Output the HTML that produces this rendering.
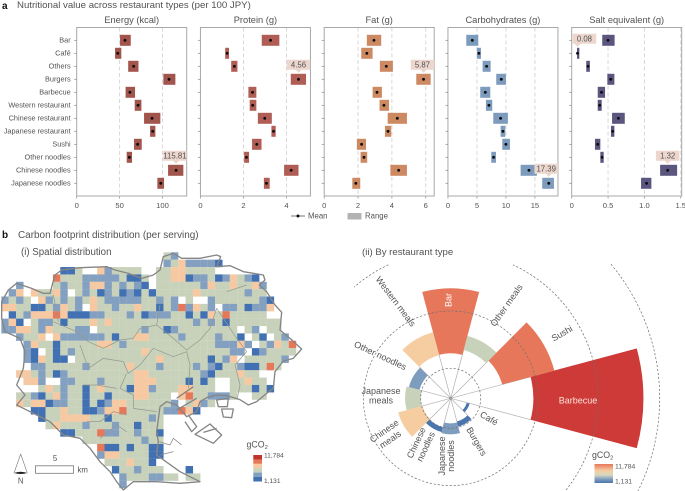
<!DOCTYPE html>
<html lang="en">
<head>
<meta charset="utf-8">
<title>Nutritional value and carbon footprint of restaurant types</title>
<style>
html,body{margin:0;padding:0;background:#fff;}
svg{display:block;font-family:"Liberation Sans",sans-serif;}
text{fill:#525252;}
</style>
</head>
<body>
<svg id="fig" xmlns="http://www.w3.org/2000/svg" width="685" height="491" viewBox="0 0 685 491">
  <text x="2" y="9" font-size="10" font-weight="bold" style="fill:#111">a</text>
  <text x="17" y="8" font-size="9.65">Nutritional value across restaurant types (per 100 JPY)</text>
  <text x="2" y="238" font-size="10" font-weight="bold" style="fill:#111">b</text>
  <text x="18" y="238" font-size="9.95">Carbon footprint distribution (per serving)</text>
  <text x="21" y="255" font-size="9.7">(i) Spatial distribution</text>
  <text x="362" y="255" font-size="9.6">(ii) By restaurant type</text>

  <g id="panels"></g>

  <g>
    <line x1="291" y1="216" x2="305" y2="216" stroke="#555" stroke-width=".8"/>
    <circle cx="298" cy="216" r="1.5" fill="#111"/>
    <text x="308" y="218.5" font-size="7.8">Mean</text>
    <rect x="347.5" y="213" width="14" height="6.5" fill="#b3b3b3"/>
    <text x="365" y="218.5" font-size="7.8">Range</text>
  </g>

  <g id="mapCells"></g>
  <g transform="translate(0,225) scale(.33333)" fill="none" stroke-linejoin="round">
    <path stroke="#949a90" stroke-width="2.2" d="M160,290 L230,320 265,350 310,370 360,345 400,340 420,310 470,300 520,340 560,375 600,345 630,310 650,250 M240,360 L265,430 310,400 370,410 385,445 420,420 460,370 520,395 560,380 570,420 565,490 M380,445 L360,490 400,510 400,550 470,560 M250,480 L290,480 350,490 M260,590 L300,590 340,560 380,570 M300,640 L350,600 380,620 M650,250 L710,340 740,380 705,420 720,480 712,520 M160,210 L175,290 M470,300 L480,240 M680,200 L740,180"/>
    <path stroke="#858585" stroke-width="4" d="M5,230 L25,195 50,175 95,190 130,205 150,205 158,175 165,150 185,135 240,128 320,125 345,135 385,145 425,160 460,150 480,135 490,95 520,85 545,100 600,100 650,90 662,95 650,125 690,122 730,140 790,150 795,165 778,180 800,200 825,240 845,262 840,315 870,340 905,372 880,400 850,408 825,440 820,490 800,505 770,530 745,540 720,524 680,512 650,510 620,518 600,530 590,560 560,575 530,540 500,530 480,545 470,620 475,650 470,690 540,740 600,770 540,775 470,770 400,770 370,795 350,770 330,740 300,710 270,670 240,640 190,630 150,590 110,570 70,550 50,540 75,510 50,480 70,430 75,380 60,340 15,320 5,280 Z"/>
    <path stroke="#858585" stroke-width="4" d="M585,628 L630,597 665,630 640,655 Z M610,622 L650,610 M650,525 L685,520 682,545 655,545 Z M665,552 L700,552 695,578 670,576 Z M530,520 L580,485 M530,555 L590,520 M555,590 L575,620 590,605 565,570"/>
    <path stroke="#858585" stroke-width="2.2" d="M478,650 L510,660 520,640 545,660 M480,690 L520,680"/>
  </g>

  <g>
    <rect x="35.5" y="465.8" width="38" height="7.5" fill="#fff" stroke="#777" stroke-width=".8"/>
    <text x="55" y="461" font-size="7.8" text-anchor="middle">5</text>
    <text x="77.5" y="472.5" font-size="7.8">km</text>
    <path d="M20.7,454 L14,473 M20.7,454 L27.3,473" fill="none" stroke="#777" stroke-width=".6"/>
    <path d="M14,473 Q20.7,470.5 27.3,473 Q20.7,475 14,473 Z" fill="#222"/>
    <text x="20.7" y="483.5" font-size="7.8" text-anchor="middle">N</text>
  </g>

  <g id="mapLegend">
    <text x="246.5" y="447.5" font-size="8.8">gCO<tspan font-size="5.8" dy="1.5">2</tspan></text>
    <text x="264" y="457.5" font-size="6.6">11,784</text>
    <text x="264" y="483" font-size="6.6">1,131</text>
  </g>

  <defs>
    <linearGradient id="polarGrad" x1="0" y1="0" x2="0" y2="1">
      <stop offset="0" stop-color="#e7775a"/>
      <stop offset=".35" stop-color="#f6cda0"/>
      <stop offset=".58" stop-color="#d6d8c0"/>
      <stop offset=".8" stop-color="#7e9cbd"/>
      <stop offset="1" stop-color="#4b76ad"/>
    </linearGradient>
  </defs>
  <g id="polar"></g>
  <g>
    <text x="592" y="458" font-size="8.8">gCO<tspan font-size="5.8" dy="1.5">2</tspan></text>
    <rect x="594.5" y="464" width="18.5" height="19" fill="url(#polarGrad)"/>
    <text x="615" y="468.5" font-size="6.8">11,784</text>
    <text x="615" y="483.5" font-size="6.8">1,131</text>
  </g>
</svg>

<script>
/* ---------- Panel a data ---------- */
const restaurantTypes = ["Bar","Café","Others","Burgers","Barbecue","Western restaurant","Chinese restaurant","Japanese restaurant","Sushi","Other noodles","Chinese noodles","Japanese noodles"];
const panelTitles = ["Energy (kcal)","Protein (g)","Fat (g)","Carbohydrates (g)","Salt equivalent (g)"];
const panelMax = [128.2,5.116,6.5,18.97,1.513];
const panelColors = ["#a2554d","#b05e55","#cd8a62","#7d9bbd","#5b5680"];
const energyTicks = ["0","50","100"];
const proteinTicks = ["0","2","4"];
const fatTicks = ["0","2","4","6"];
const carbTicks = ["0","5","10","15"];
const saltTicks = ["0","0.5","1.0","1.5"];

const energyMean = [56.3,47.8,66.4,107.6,62,71.5,87.8,88.6,71,61.4,115.81,98];
const energyLow  = [50.5,44.7,60,101,57,67.6,78.5,85.5,66.8,58.3,106.5,94];
const energyHigh = [63,52,72,115,68,75.4,97.5,91.7,75.8,64.5,124.3,101.8];

const proteinMean = [3.26,1.24,1.58,4.56,2.42,2.43,2.99,3.4,2.62,2.14,4.22,3.07];
const proteinLow  = [2.85,1.15,1.43,4.2,2.23,2.29,2.67,3.3,2.4,2.03,3.89,2.95];
const proteinHigh = [3.67,1.33,1.72,4.91,2.6,2.6,3.32,3.5,2.84,2.26,4.56,3.22];

const fatMean = [2.94,2.52,3.67,5.87,3.12,3.53,4.32,3.77,2.21,2.35,4.4,1.87];
const fatLow  = [2.52,2.19,3.29,5.44,2.86,3.27,3.75,3.59,1.93,2.15,3.91,1.66];
const fatHigh = [3.37,2.86,4.06,6.29,3.41,3.83,4.89,3.96,2.47,2.54,4.89,2.13];

const carbMean = [4.2,5.34,6.67,9.2,6.44,7.07,9.08,9.48,10,7.87,13.97,17.39];
const carbLow  = [3.16,5,5.98,8.33,5.57,6.55,7.82,9.08,9.37,7.47,12.53,16.26];
const carbHigh = [5.23,5.69,7.36,10,7.3,7.64,10.34,9.89,10.69,8.28,15.34,18.28];

const saltMean = [0.5,0.08,0.225,0.537,0.41,0.385,0.642,0.564,0.358,0.417,1.32,1.03];
const saltLow  = [0.42,0.073,0.2,0.49,0.358,0.358,0.555,0.54,0.32,0.394,1.216,0.954];
const saltHigh = [0.59,0.105,0.25,0.587,0.459,0.413,0.73,0.587,0.394,0.44,1.45,1.096];

const calloutRows = [[10],[3],[3],[11],[1,10]];

/* ---------- Panel b(i) data: one letter per grid cell, by carbon class ---------- */
const mapRows = [
"......................gb",
"......................bgobbbbB",
"........BBg..obgggg..ggoogggg",
".......rgggbbbbbgBBg.ggooBbbgBbogbB",
"..b....gbggboobgbgbB.ggggggboggoggob",
".bo.oggob.gbgBbgBbBgBgggggoggggggbgg",
"bgbg.obgbgbgogbbbbbggbgb.g..bggggggbB",
"ooggBBgbogb.oggbggoggBgbrbogb.bbgBbbo",
".BgbooorOBBBbbgggbgBbbbggBgBogrggggg",
"boB.gbbgBgggogogggggggggggbgbgBggggggg",
"bboogbogggbb.ggggggbggBbgggggggg.gb.gg",
"..bggo.obbbbbbgBggooggggbggggbggB.gB.gb",
"...boggBgggggoogbggggggggggggbbbob.gbogr",
"...bB.gBgbgggggggggogggggggggggbb.Bbgggg",
"...bBogBB.gggggggggggoggggggBgbo.gggggb",
"....bbgggggbgggggogggbggggbgbBggbBBgrg",
"..oogbgBbgggggggggoogggggggbBgggogg.",
"...oob..bbgggbggggoooggggBgBg..ggogg.",
".....gogbggBgogggBoobgggooggg..gggBgB",
"..ggbBgobggBggBgggooggg.orggbbbg..gg",
"..ogooBbbggBgBbooggggggb.gobg",
"....BBggoggBBboorgggggbbroB",
".....BggooooggBgggggbg",
"......gogggbgggbggBggg",
"........BBgggrbbggbggB",
"...........ggggggggbgg",
".............rBBgBggBB",
".............booggggBB",
"..............gggoggB",
"...............Bggbggg...B",
"................bgggbbgg.gg",
"................b"
];
const mapClassColors = {g:"#c8d2bb",o:"#f6c9a2",O:"#f6c9a2",b:"#84a0c1",B:"#4171b2",r:"#e67758",R:"#c0342f"};
const mapLegendClasses = ["R","r","o","g","b","B"];

/* ---------- Panel b(ii) data ---------- */
const polarTypes = ["Barbecue","Sushi","Other meals","Bar","Western meals","Other noodles","Japanese meals","Chinese meals","Chinese noodles","Japanese noodles","Burgers","Café"];
const polarInner = [2.48,1.6,1.5,1.35,1.34,0.97,0.9,0.88,0.9,0.75,0.72,0.5];
const polarOuter = [5.78,3.22,1.94,3.3,2.05,1.3,1.37,1.63,1.05,1.08,0.88,0.59];
const polarColors = ["#cd3a37","#e7775a","#c8d2bb","#e7775a","#f6cda0","#7e9cbd","#c8d2bb","#f6cda0","#4b76ad","#7e9cbd","#4b76ad","#4b76ad"];
const polarRings = [0.9,2.62,4.42,6.27];
const ringSpans = [[0,360],[0,360],[-40,65,115,131],[-32,40]];

/* ---------- Helpers ---------- */
const NS = "http://www.w3.org/2000/svg";
function mk(tag, attrs, parent, txt){
  const el = document.createElementNS(NS, tag);
  for (const k in attrs) el.setAttribute(k, attrs[k]);
  if (txt !== undefined) el.textContent = txt;
  parent.appendChild(el);
  return el;
}
function slug(s){ return s.toLowerCase().replace(/[^a-z0-9]+/g,"-").replace(/(^-|-$)/g,""); }

/* ---------- Panel a ---------- */
const meansBy = [energyMean,proteinMean,fatMean,carbMean,saltMean];
const lowsBy = [energyLow,proteinLow,fatLow,carbLow,saltLow];
const highsBy = [energyHigh,proteinHigh,fatHigh,carbHigh,saltHigh];
const ticksBy = [energyTicks,proteinTicks,fatTicks,carbTicks,saltTicks];
const panelsG = document.getElementById("panels");
const plotTop = 27.5, plotBottom = 196, plotW = 110, rowH = 13;
const rowY = i => 40.3 + i * rowH;

panelTitles.forEach((title, p) => {
  const left = 76.7 + p * 123.75;
  const xS = v => left + v / panelMax[p] * plotW;
  const g = mk("g", {}, panelsG);
  
  

  ticksBy[p].forEach(t => {
    const v = parseFloat(t), x = xS(v);
    if (v > 0) {
      const grid = mk("line", {x1:x,x2:x,y1:plotTop,y2:plotBottom,stroke:"#d4d4d4","stroke-width":.9,"stroke-dasharray":"4 2.5"}, g);
      
      
    }
    const tick = mk("line", {x1:x,x2:x,y1:plotBottom,y2:plotBottom+2.5,stroke:"#888","stroke-width":.7}, g);
    
    
    const lab = mk("text", {x:x,y:208,"font-size":7.6,"text-anchor":"middle"}, g, t);
    
    
  });

  const frame = mk("rect", {x:left,y:plotTop,width:plotW,height:plotBottom-plotTop,fill:"none",stroke:"#a8a8a8","stroke-width":1}, g);
  
  

  const ttl = mk("text", {x:left+plotW/2,y:23,"font-size":9.3,"text-anchor":"middle"}, g, title);
  
  

  restaurantTypes.forEach((name, i) => {
    const y = rowY(i);
    const tk = mk("line", {x1:left-2.5,x2:left,y1:y,y2:y,stroke:"#888","stroke-width":.7}, g);
    
    
    if (p === 0) {
      const lb = mk("text", {x:left-6,y:y+2.4,"font-size":7.35,"text-anchor":"end"}, g, name);
      
      
    }
    const x0 = xS(lowsBy[p][i]), x1 = xS(highsBy[p][i]);
    const bar = mk("rect", {x:x0,y:y-5.5,width:x1-x0,height:11,fill:panelColors[p]}, g);
    
    
    const dot = mk("circle", {cx:xS(meansBy[p][i]),cy:y,r:1.45,fill:"#0c0c0c"}, g);
    
    
  });

  calloutRows[p].forEach(row => {
    const mv = meansBy[p][row];
    const w = 23.5, y = rowY(row);
    const tip = xS(mv);
    const bx = Math.max(left + 1, Math.min(left + plotW - w, tip - w / 2));
    const ptrX = Math.max(bx + 4, Math.min(bx + w - 6, tip));
    const c = mk("path", {d:`M${bx},${y-19.5} h${w} v10 H${ptrX+3} L${ptrX},${y-6.5} L${ptrX-3},${y-9.5} H${bx} Z`,fill:"#ecd6cd"}, g);
    
    
    const ct = mk("text", {x:bx+w/2,y:y-11.8,"font-size":7.8,"text-anchor":"middle"}, g, mv.toFixed(2));
    
    
  });
});

/* ---------- Panel b(i) map ---------- */
const mapG = document.getElementById("mapCells");
const cell = 7.37, mapX0 = 1.33, mapY0 = 252.3;
const colX = c => mapX0 + c * cell;
const rowYm = r => mapY0 + r * cell;
mapRows.forEach((row, r) => {
  [...row].forEach((ch, c) => {
    if (!mapClassColors[ch]) return;
    const cellEl = mk("rect", {x:colX(c),y:rowYm(r),width:cell+.1,height:cell+.1,fill:mapClassColors[ch]}, mapG);
    
    
  });
});
const mapLegend = document.getElementById("mapLegend");
mapLegendClasses.forEach((k, i) => {
  const sw = mk("rect", {x:253.3,y:455+i*4.4,width:8.7,height:4.5,fill:mapClassColors[k]}, mapLegend);
  
  
});

/* ---------- Panel b(ii) polar chart ---------- */
const polarG = document.getElementById("polar");
const cx = 450.7, cy = 398.3;
const rS = v => v * 33.33;
const pt = (r, deg) => [cx + r * Math.cos(deg * Math.PI / 180), cy - r * Math.sin(deg * Math.PI / 180)];
const sectorCenter = i => i * 30;

polarTypes.forEach((name, i) => {
  const a0 = sectorCenter(i) - 15, a1 = sectorCenter(i) + 15;
  const ri = rS(polarInner[i]), ro = rS(polarOuter[i]);
  const p1 = pt(ri, a0), p2 = pt(ro, a0), p3 = pt(ro, a1), p4 = pt(ri, a1);
  const w = mk("path", {d:`M${p1} L${p2} A${ro},${ro} 0 0 0 ${p3} L${p4} A${ri},${ri} 0 0 1 ${p1} Z`,fill:polarColors[i]}, polarG);
  
  
  const next = (i + 1) % polarTypes.length;
  const e = pt(rS(Math.max(polarInner[i], polarInner[next])), a1);
  const sp = mk("line", {x1:cx,y1:cy,x2:e[0],y2:e[1],stroke:"#b0b0b0","stroke-width":.7}, polarG);
  
  
});
const hub = mk("circle", {cx:cx,cy:cy,r:1.5,fill:"#999"}, polarG);



polarRings.forEach((v, k) => {
  const r = rS(v), s = ringSpans[k];
  for (let j = 0; j < s.length; j += 2) {
    let a = s[j], b = s[j + 1], el;
    if (b - a >= 360) {
      el = mk("circle", {cx:cx,cy:cy,r:r,fill:"none"}, polarG);
    } else {
      const p0 = pt(r, a), p1 = pt(r, b);
      el = mk("path", {d:`M${p0} A${r},${r} 0 ${b - a > 180 ? 1 : 0} 0 ${p1}`,fill:"none"}, polarG);
    }
    el.setAttribute("stroke", "#6f6f6f");
    el.setAttribute("stroke-width", ".7");
    el.setAttribute("stroke-dasharray", "2.2 1.8");
    
    
  }
});

const polarLabels = [
  ["Western meals",393.3,303.3,53,"#525252"],
  ["Other noodles",379,358.3,25,"#525252"],
  ["Japanese",381,394,0,"#525252"],
  ["meals",381,403.5,0,"#525252"],
  ["Chinese",386,433.5,-35,"#525252"],
  ["meals",392,442,-35,"#525252"],
  ["Chinese",419,444,-65,"#525252"],
  ["noodles",428.5,448,-65,"#525252"],
  ["Japanese",445,456,-90,"#525252"],
  ["noodles",454,456,-90,"#525252"],
  ["Burgers",474,443,60,"#525252"],
  ["Café",487.5,421,30,"#525252"],
  ["Other meals",509,307,-55,"#525252"],
  ["Sushi",563.5,336,-30,"#525252"],
  ["Bar",451.5,300,-90,"#ffffff"],
  ["Barbecue",578,403.5,0,"#fbe3da"]
];
polarLabels.forEach(l => {
  const t = mk("text", {x:0,y:0,"font-size":9,"text-anchor":"middle",transform:`translate(${l[1]},${l[2]}) rotate(${l[3]})`,style:`fill:${l[4]}`}, polarG, l[0]);
  
  
});
</script>
</body>
</html>
